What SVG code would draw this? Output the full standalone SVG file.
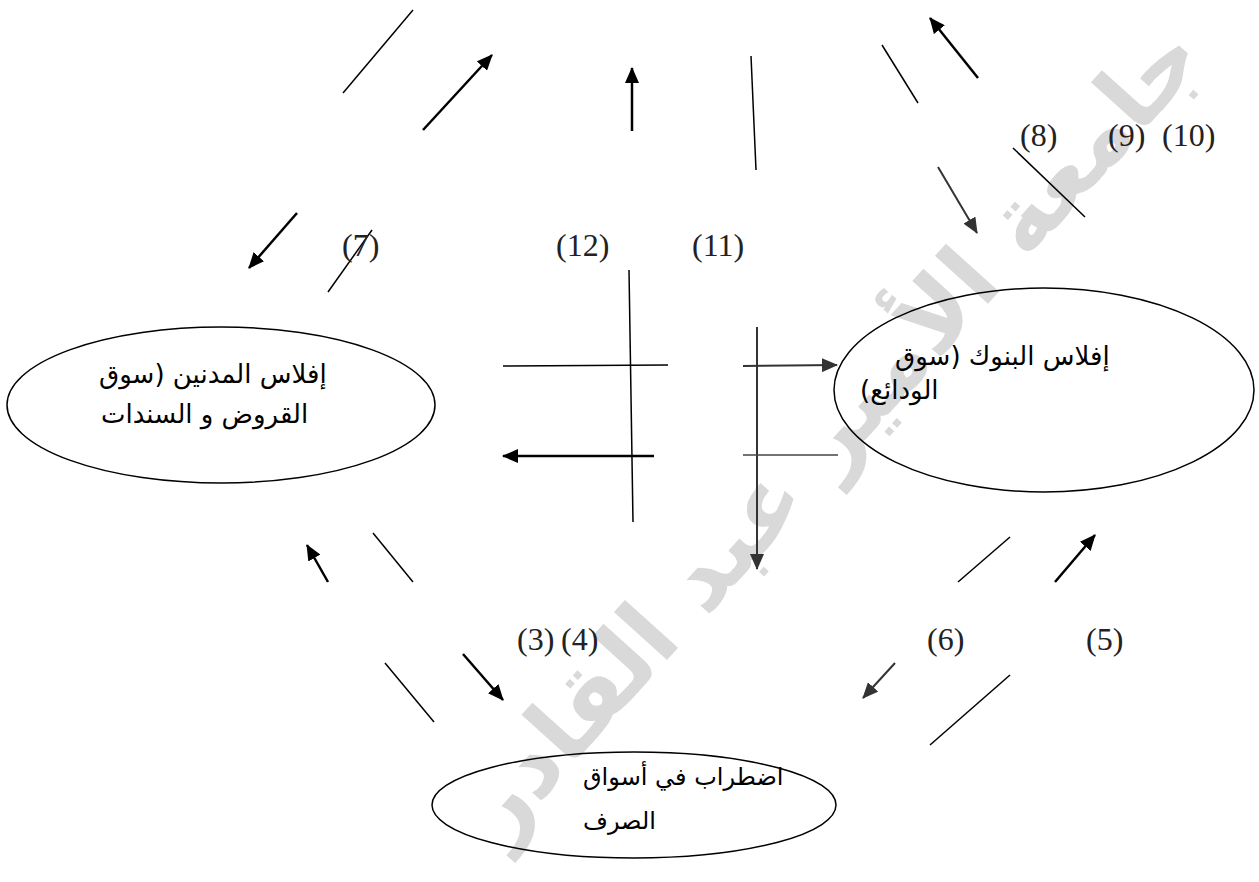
<svg xmlns="http://www.w3.org/2000/svg" width="1259" height="882" viewBox="0 0 1259 882">
<style>
.ar{font-family:"DejaVu Sans","Noto Sans",sans-serif;font-size:26px;fill:#000;direction:rtl}
.arb{font-size:24px}
.lb{font-family:"Liberation Serif",serif;font-size:32px;fill:#222}
.ln{stroke:#000;stroke-width:1.5;fill:none}
.ar1{stroke:#000;stroke-width:2.5;fill:none;marker-end:url(#ah)}
.ar2{stroke:#333;stroke-width:2;fill:none;marker-end:url(#ah2)}
.nd{fill:none;stroke:#000;stroke-width:1.5}
.wm{font-family:"DejaVu Sans",sans-serif;font-weight:bold;font-size:94px;fill:#d9d9d9}
</style>
<defs>
<marker id="ah" markerUnits="userSpaceOnUse" markerWidth="16" markerHeight="14" refX="15" refY="7" orient="auto"><path d="M0,0 L16,7 L0,14 z" fill="#000"/></marker>
<marker id="ah2" markerUnits="userSpaceOnUse" markerWidth="16" markerHeight="14" refX="15" refY="7" orient="auto"><path d="M0,0 L16,7 L0,14 z" fill="#333"/></marker>
</defs>
<rect width="1259" height="882" fill="#fff"/>
<g id="watermark">
<text class="wm" x="832" y="462" text-anchor="middle" direction="rtl" transform="rotate(-48 832 432)">جامعة الأمير عبد القادر</text>
</g>
<g id="node-debtors">
<ellipse class="nd" cx="221" cy="405" rx="214" ry="78"/>
<text class="ar" x="99" y="383" text-anchor="end">إفلاس المدنين (سوق</text>
<text class="ar" x="101" y="423" text-anchor="end">القروض و السندات</text>
</g>
<g id="node-banks">
<ellipse class="nd" cx="1044" cy="390" rx="210" ry="102"/>
<text class="ar" x="895" y="365" text-anchor="end">إفلاس البنوك (سوق</text>
<text class="ar" x="860" y="399" text-anchor="end">الودائع)</text>
</g>
<g id="node-exchange">
<ellipse class="nd" cx="634" cy="805" rx="202" ry="53"/>
<text class="ar arb" x="583" y="785" text-anchor="end">اضطراب في أسواق</text>
<text class="ar arb" x="583" y="829" text-anchor="end">الصرف</text>
</g>
<g id="connectors">
<line class="ln" x1="343" y1="93" x2="413" y2="10"/>
<line class="ar1" x1="423" y1="130" x2="492" y2="55"/>
<line class="ar1" x1="632" y1="131" x2="632" y2="68"/>
<line class="ln" x1="751" y1="56" x2="756" y2="170"/>
<line class="ln" x1="882" y1="45" x2="918" y2="103"/>
<line class="ar1" x1="978" y1="78" x2="930" y2="18"/>
<line class="ar2" x1="938" y1="167" x2="977" y2="233"/>
<line class="ln" x1="1013" y1="148" x2="1085" y2="217"/>
<line class="ar1" x1="297" y1="213" x2="249" y2="268"/>
<line class="ln" x1="328" y1="292" x2="372" y2="230"/>
<line class="ln" x1="629" y1="270" x2="633" y2="522"/>
<line class="ln" x1="503" y1="366" x2="668" y2="365"/>
<line class="ar1" x1="654" y1="456" x2="503" y2="456"/>
<line class="ar2" x1="757" y1="327" x2="757" y2="569"/>
<line class="ar2" x1="743" y1="366" x2="837" y2="365"/>
<line class="ln" x1="743" y1="455" x2="838" y2="455" style="stroke:#444"/>
<line class="ar1" x1="328" y1="582" x2="307" y2="545"/>
<line class="ln" x1="373" y1="533" x2="413" y2="582"/>
<line class="ln" x1="385" y1="663" x2="434" y2="722"/>
<line class="ar1" x1="463" y1="654" x2="503" y2="700"/>
<line class="ln" x1="958" y1="582" x2="1010" y2="537"/>
<line class="ar1" x1="1055" y1="582" x2="1095" y2="535"/>
<line class="ar2" x1="895" y1="663" x2="863" y2="698"/>
<line class="ln" x1="930" y1="745" x2="1010" y2="675"/>
</g>
<g id="labels">
<text class="lb" x="342" y="256">(7)</text>
<text class="lb" x="556" y="256">(12)</text>
<text class="lb" x="692" y="256">(11)</text>
<text class="lb" x="1020" y="146">(8)</text>
<text class="lb" x="1108" y="146">(9)</text>
<text class="lb" x="1162" y="146">(10)</text>
<text class="lb" x="517" y="650">(3)</text>
<text class="lb" x="561" y="650">(4)</text>
<text class="lb" x="927" y="650">(6)</text>
<text class="lb" x="1086" y="650">(5)</text>
</g>
</svg>
